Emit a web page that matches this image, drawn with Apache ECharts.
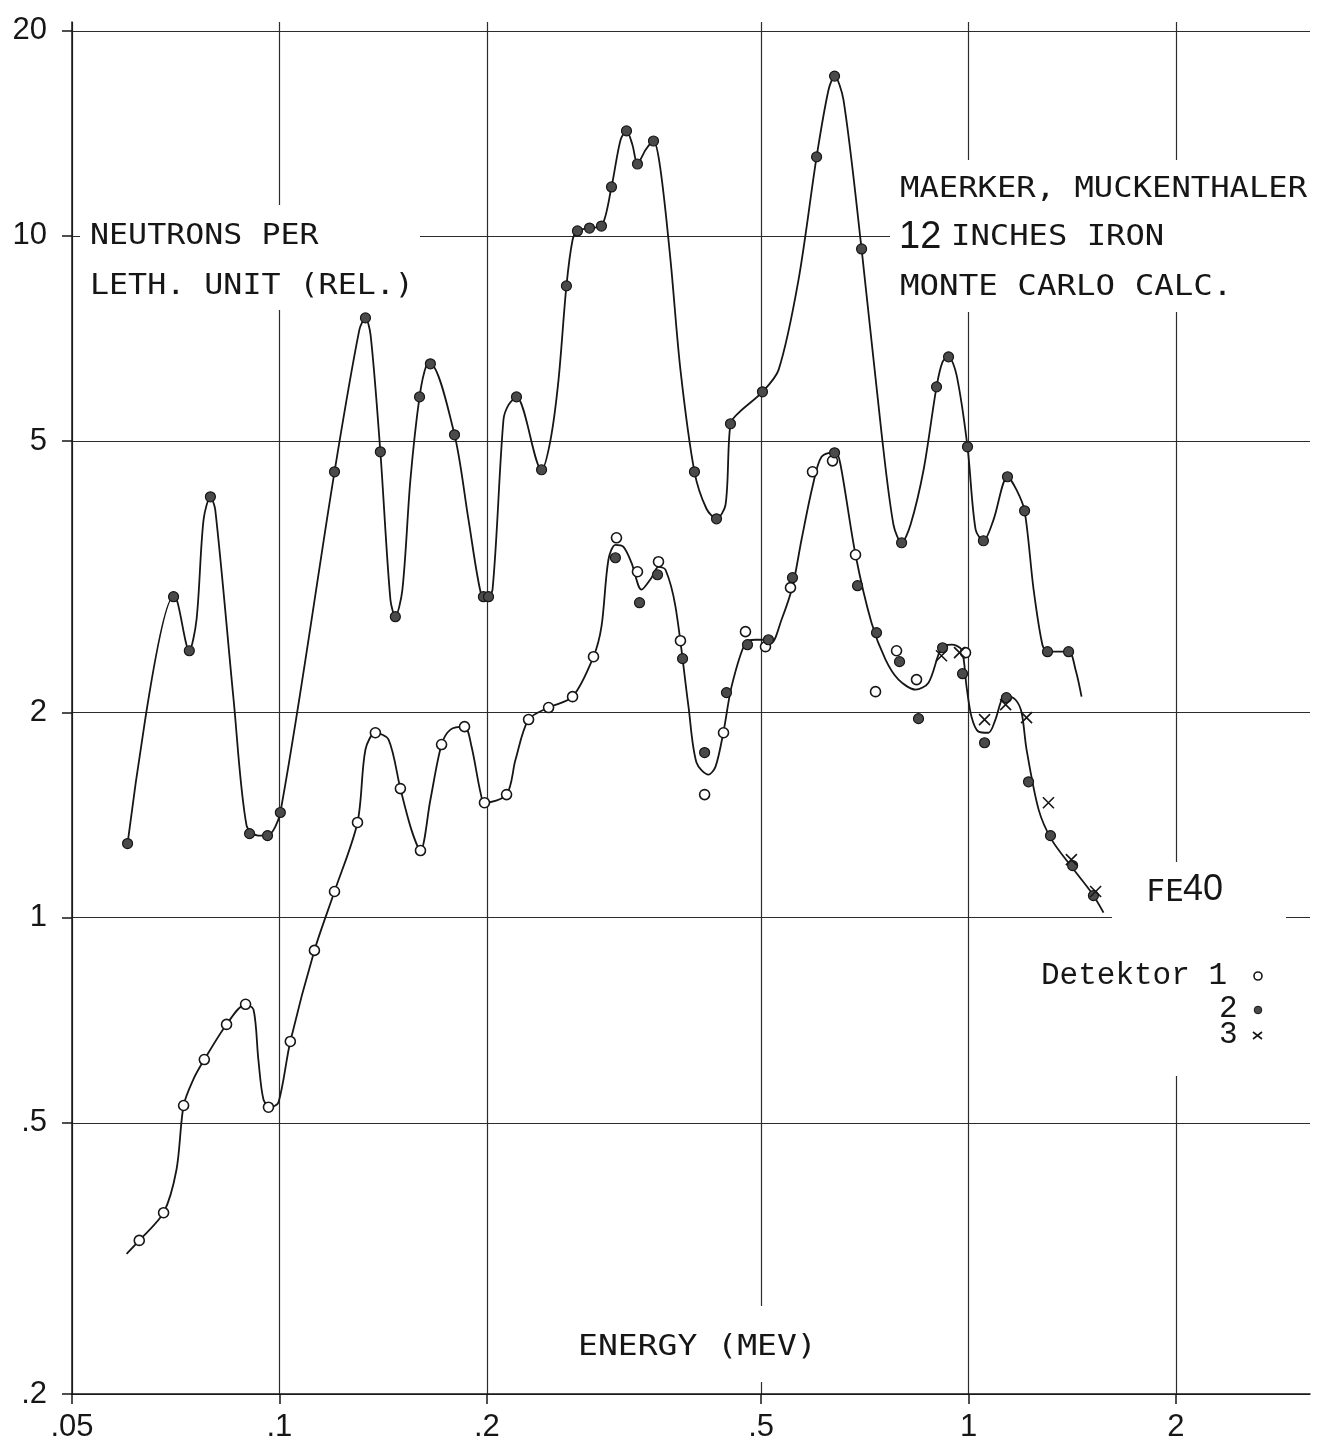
<!DOCTYPE html>
<html><head><meta charset="utf-8">
<script src="https://cdn.jsdelivr.net/npm/echarts@6/dist/echarts.min.js"></script>
<style>html,body{margin:0;padding:0;background:#fff}#c{width:1321px;height:1450px}</style>
</head><body><div id="c"></div>
<script>
// ---- axis ranges / ticks ----
const xMin = 0.05, xMax = 3.13;
const yMin = 0.2, yMax = 20.6;
const xTickValues = [0.05, 0.1, 0.2, 0.5, 1, 2];
const xTickLabels = ['.05', '.1', '.2', '.5', '1', '2'];
const yTickValues = [0.2, 0.5, 1, 2, 5, 10, 20];
const yTickLabels = ['.2', '.5', '1', '2', '5', '10', '20'];

// ---- upper smooth curve (energy MeV, neutrons per lethargy unit) ----
const upperCurveE = [0.0602,0.0702,0.0711,0.0740,0.0758,0.0776,0.0794,0.0807,0.0858,0.0896,
  0.0932,0.0961,0.1003,0.1202,0.1306,0.1333,0.1356,0.1401,0.1449,0.1473,
  0.1508,0.1549,0.1597,0.1635,0.1656,0.1795,0.1881,0.1958,0.1997,0.2038,
  0.2114,0.2150,0.2208,0.2401,0.2474,0.2541,0.2609,0.2663,0.2707,0.2818,
  0.2933,0.3033,0.3126,0.3189,0.3253,0.3308,0.3398,0.3490,0.3573,0.3694,
  0.3819,0.4002,0.4166,0.4308,0.4440,0.4514,0.4638,0.5023,0.5301,0.5666,
  0.6019,0.6263,0.6391,0.6585,0.6995,0.7477,0.7782,0.7996,0.8238,0.8606,
  0.8986,0.9169,0.9354,0.9607,0.9966,1.024,1.051,1.087,1.139,1.174,
  1.206,1.243,1.280,1.302,1.397,1.430,1.459];
const upperCurveV = [1.284,2.956,2.906,2.463,2.735,3.833,4.143,3.965,2.087,1.364,
  1.319,1.319,1.426,4.508,7.281,7.582,7.158,4.823,2.926,2.763,
  3.026,4.387,5.806,6.471,6.492,5.108,3.833,3.006,2.946,3.026,
  5.374,5.651,5.806,4.539,5.022,6.150,8.447,9.865,10.17,10.27,
  10.34,11.80,13.83,14.26,13.60,12.75,13.37,13.78,12.50,9.222,
  6.361,4.508,3.979,3.846,4.033,5.302,5.501,5.906,6.361,8.620,
  13.06,16.37,17.16,15.83,9.570,5.143,3.770,3.547,3.770,4.539,
  6.006,6.535,6.647,6.254,4.905,3.707,3.571,3.833,4.433,4.242,
  3.951,3.026,2.513,2.455,2.455,2.310,2.109];

// ---- lower smooth curve ----
const lowerCurveE = [0.0600,0.0626,0.0679,0.0709,0.0726,0.0750,0.0778,0.0838,0.0893,0.0917,
  0.0932,0.0948,0.0970,0.0997,0.1037,0.1124,0.1202,0.1298,0.1333,0.1378,
  0.1440,0.1498,0.1554,0.1602,0.1656,0.1719,0.1771,0.1856,0.1900,0.1958,
  0.1984,0.2136,0.2201,0.2299,0.2458,0.2663,0.2856,0.2933,0.3002,0.3073,
  0.3157,0.3243,0.3353,0.3467,0.3549,0.3633,0.3756,0.3923,0.4029,0.4194,
  0.4294,0.4410,0.4530,0.4746,0.4908,0.5074,0.5177,0.5353,0.5553,0.5723,
  0.5937,0.6119,0.6412,0.6520,0.6855,0.7231,0.7578,0.7914,0.8377,0.8748,
  0.9137,0.9448,0.9769,0.9934,1.010,1.034,1.069,1.094,1.117,1.135,
  1.170,1.194,1.214,1.264,1.320,1.410,1.508,1.570];
const lowerCurveV = [0.321,0.336,0.369,0.427,0.530,0.579,0.619,0.697,0.746,0.733,
  0.619,0.541,0.527,0.536,0.658,0.895,1.092,1.379,1.764,1.867,
  1.824,1.546,1.346,1.254,1.489,1.794,1.887,1.906,1.782,1.525,
  1.474,1.515,1.705,1.952,2.033,2.109,2.414,2.671,3.349,3.523,
  3.499,3.315,3.027,3.152,3.271,3.238,2.858,2.039,1.688,1.621,
  1.665,1.874,2.182,2.531,2.556,2.556,2.531,2.735,3.058,3.583,
  4.285,4.742,4.823,4.616,3.406,2.707,2.390,2.234,2.160,2.211,
  2.488,2.514,2.472,2.182,1.971,1.874,1.867,1.952,2.087,2.117,
  2.087,1.999,1.764,1.440,1.301,1.188,1.088,1.017];

// ---- Detektor 1 (open circles) ----
const det1E = [0.0626,0.0679,0.0726,0.0778,0.0838,0.0893,0.0964,0.1037,0.1124,0.1202,
  0.1298,0.1378,0.1498,0.1602,0.1719,0.1856,0.1984,0.2136,0.2299,0.2458,
  0.2663,0.2856,0.3084,0.3308,0.3549,0.3819,0.4140,0.4410,0.4746,0.5074,
  0.5516,0.5937,0.6348,0.6855,0.7329,0.7862,0.8405,0.9900];
const det1V = [0.336,0.369,0.530,0.619,0.697,0.746,0.527,0.658,0.895,1.092,
  1.379,1.867,1.546,1.254,1.794,1.906,1.474,1.515,1.952,2.033,
  2.109,2.414,3.607,3.216,3.327,2.548,1.515,1.867,2.627,2.497,
  3.048,4.508,4.678,3.406,2.145,2.463,2.234,2.447];

// ---- Detektor 2 (filled circles) ----
const det2E = [0.0602,0.0702,0.0740,0.0794,0.0905,0.0961,0.1003,0.1202,0.1333,0.1401,
  0.1473,0.1597,0.1656,0.1795,0.1977,0.2011,0.2208,0.2401,0.2609,0.2707,
  0.2818,0.2933,0.3033,0.3189,0.3308,0.3490,0.4002,0.4308,0.4514,0.5023,
  0.6019,0.6391,0.6995,0.7996,0.8986,0.9354,0.9966,1.051,1.139,1.206,
  1.302,1.397,
  0.3073,0.3331,0.3537,0.3846,0.4140,0.4454,0.4778,0.5125,0.5553,0.6391,
  0.6901,0.7353,0.7941,0.8461,0.9169,0.9802,1.055,1.135,1.222,1.315,
  1.416,1.518];
const det2V = [1.284,2.956,2.463,4.143,1.328,1.319,1.426,4.508,7.582,4.823,
  2.763,5.806,6.492,5.108,2.956,2.956,5.806,4.539,8.447,10.17,
  10.27,10.34,11.80,14.26,12.75,13.78,4.508,3.846,5.302,5.906,
  13.06,17.16,9.570,3.547,6.006,6.647,4.905,3.571,4.433,3.951,
  2.455,2.455,
  3.372,2.897,3.184,2.398,1.746,2.138,2.514,2.556,3.152,4.807,
  3.068,2.618,2.374,1.958,2.488,2.279,1.805,2.102,1.582,1.319,
  1.192,1.077];

// ---- Detektor 3 (crosses) ----
const det3E = [0.9137,0.9704,1.055,1.132,1.214,1.306,1.410,1.529];
const det3V = [2.422,2.447,1.952,2.053,1.965,1.474,1.216,1.092];

// ---------------------------------------------------------------
const L = Math.log10;
const pairs = (E, V) => E.map((e, i) => [L(e), L(V[i])]);
const INK = '#161616';
const GRID = '#2c2c2c';
const MONO = '"DejaVu Sans Mono", "Liberation Mono", monospace';
const CMONO = '"Liberation Mono", "DejaVu Sans Mono", monospace';
const NUM = '"Liberation Sans Narrow", "Liberation Sans", sans-serif';
function nearestLabel(v, vals, labels) {
  let b = 0;
  vals.forEach((t, i) => { if (Math.abs(L(t) - v) < Math.abs(L(vals[b]) - v)) b = i; });
  return labels[b];
}

const chart = echarts.init(document.getElementById('c'), null, { renderer: 'canvas' });
const whiteRect = (x, y, w, h) => ({ type: 'rect', z: 1, silent: true, shape: { x, y, width: w, height: h }, style: { fill: '#fff' } });
const txt = (x, y, text, font, sx) => ({ type: 'text', z: 10, silent: true, x, y, scaleX: sx || 1,
  style: { text, font, fill: INK, align: 'left', verticalAlign: 'middle' } });

chart.setOption({
  animation: false,
  backgroundColor: '#fff',
  grid: { left: 72, right: 11, top: 22, bottom: 56 },
  xAxis: {
    type: 'value', min: L(xMin), max: L(xMax),
    axisLine: { show: true, onZero: false, lineStyle: { color: INK, width: 1.5 } },
    axisTick: { show: true, customValues: xTickValues.map(L), length: 10, lineStyle: { color: INK, width: 1.5 } },
    axisLabel: { customValues: xTickValues.map(L), formatter: v => nearestLabel(v, xTickValues, xTickLabels),
      margin: 18, fontFamily: NUM, fontSize: 31, color: INK },
    splitLine: { show: true, lineStyle: { color: GRID, width: 1.2 } }
  },
  yAxis: {
    type: 'value', min: L(yMin), max: L(yMax),
    axisLine: { show: true, onZero: false, lineStyle: { color: INK, width: 1.5 } },
    axisTick: { show: true, customValues: yTickValues.map(L), length: 10, lineStyle: { color: INK, width: 1.5 } },
    axisLabel: { customValues: yTickValues.map(L), formatter: v => nearestLabel(v, yTickValues, yTickLabels),
      margin: 25, fontFamily: NUM, fontSize: 31, color: INK },
    splitLine: { show: true, lineStyle: { color: GRID, width: 1.2 } }
  },
  series: [
    { name: 'upper curve', type: 'line', data: pairs(upperCurveE, upperCurveV), showSymbol: false,
      smooth: 0.3, z: 3, lineStyle: { color: INK, width: 1.8 } },
    { name: 'lower curve', type: 'line', data: pairs(lowerCurveE, lowerCurveV), showSymbol: false,
      smooth: 0.3, z: 3, lineStyle: { color: INK, width: 1.8 } },
    { name: 'Detektor 1', type: 'scatter', data: pairs(det1E, det1V), symbol: 'circle', symbolSize: 10, z: 4,
      itemStyle: { color: '#fff', borderColor: INK, borderWidth: 1.6, opacity: 1 } },
    { name: 'Detektor 2', type: 'scatter', data: pairs(det2E, det2V), symbol: 'circle', symbolSize: 10, z: 5,
      itemStyle: { color: '#4a4a4a', borderColor: INK, borderWidth: 1.2, opacity: 1 } },
    { name: 'Detektor 3', type: 'scatter', data: pairs(det3E, det3V), symbol: 'path://M0,0L10,10M10,0L0,10', symbolSize: 11, z: 6,
      itemStyle: { color: INK, borderColor: INK, borderWidth: 1.6, opacity: 1 } }
  ],
  graphic: [
    whiteRect(80, 205, 340, 105),
    whiteRect(890, 160, 431, 152),
    whiteRect(570, 1306, 262, 76),
    whiteRect(1112, 862, 174, 62),
    whiteRect(1030, 924, 246, 152),
    txt(90, 237, 'NEUTRONS PER', '28px ' + MONO, 1.13),
    txt(90, 287, 'LETH. UNIT (REL.)', '28px ' + MONO, 1.13),
    txt(900, 190, 'MAERKER, MUCKENTHALER', '28px ' + MONO, 1.15),
    txt(899, 238, '12', '38px ' + NUM, 1),
    txt(951, 238, 'INCHES IRON', '28px ' + MONO, 1.15),
    txt(900, 288, 'MONTE CARLO CALC.', '28px ' + MONO, 1.16),
    txt(578, 1348, 'ENERGY (MEV)', '28px ' + MONO, 1.18),
    txt(1146, 893, 'FE', '30px ' + MONO, 1.05),
    txt(1183, 890, '40', '36px ' + NUM, 1),
    txt(1041, 976, 'Detektor 1', '31px ' + CMONO, 1),
    txt(1219, 1009, '2', '31px ' + CMONO, 1),
    txt(1219, 1035, '3', '31px ' + CMONO, 1),
    { type: 'circle', z: 10, silent: true, shape: { cx: 1258, cy: 976, r: 4 }, style: { fill: '#fff', stroke: INK, lineWidth: 1.6 } },
    { type: 'circle', z: 10, silent: true, shape: { cx: 1258, cy: 1010, r: 3.8 }, style: { fill: '#4a4a4a', stroke: INK, lineWidth: 1 } },
    { type: 'polyline', z: 10, silent: true, shape: { points: [[1253, 1032], [1262, 1039]] }, style: { stroke: INK, lineWidth: 1.6 } },
    { type: 'polyline', z: 10, silent: true, shape: { points: [[1262, 1032], [1253, 1039]] }, style: { stroke: INK, lineWidth: 1.6 } }
  ]
});
</script></body></html>
